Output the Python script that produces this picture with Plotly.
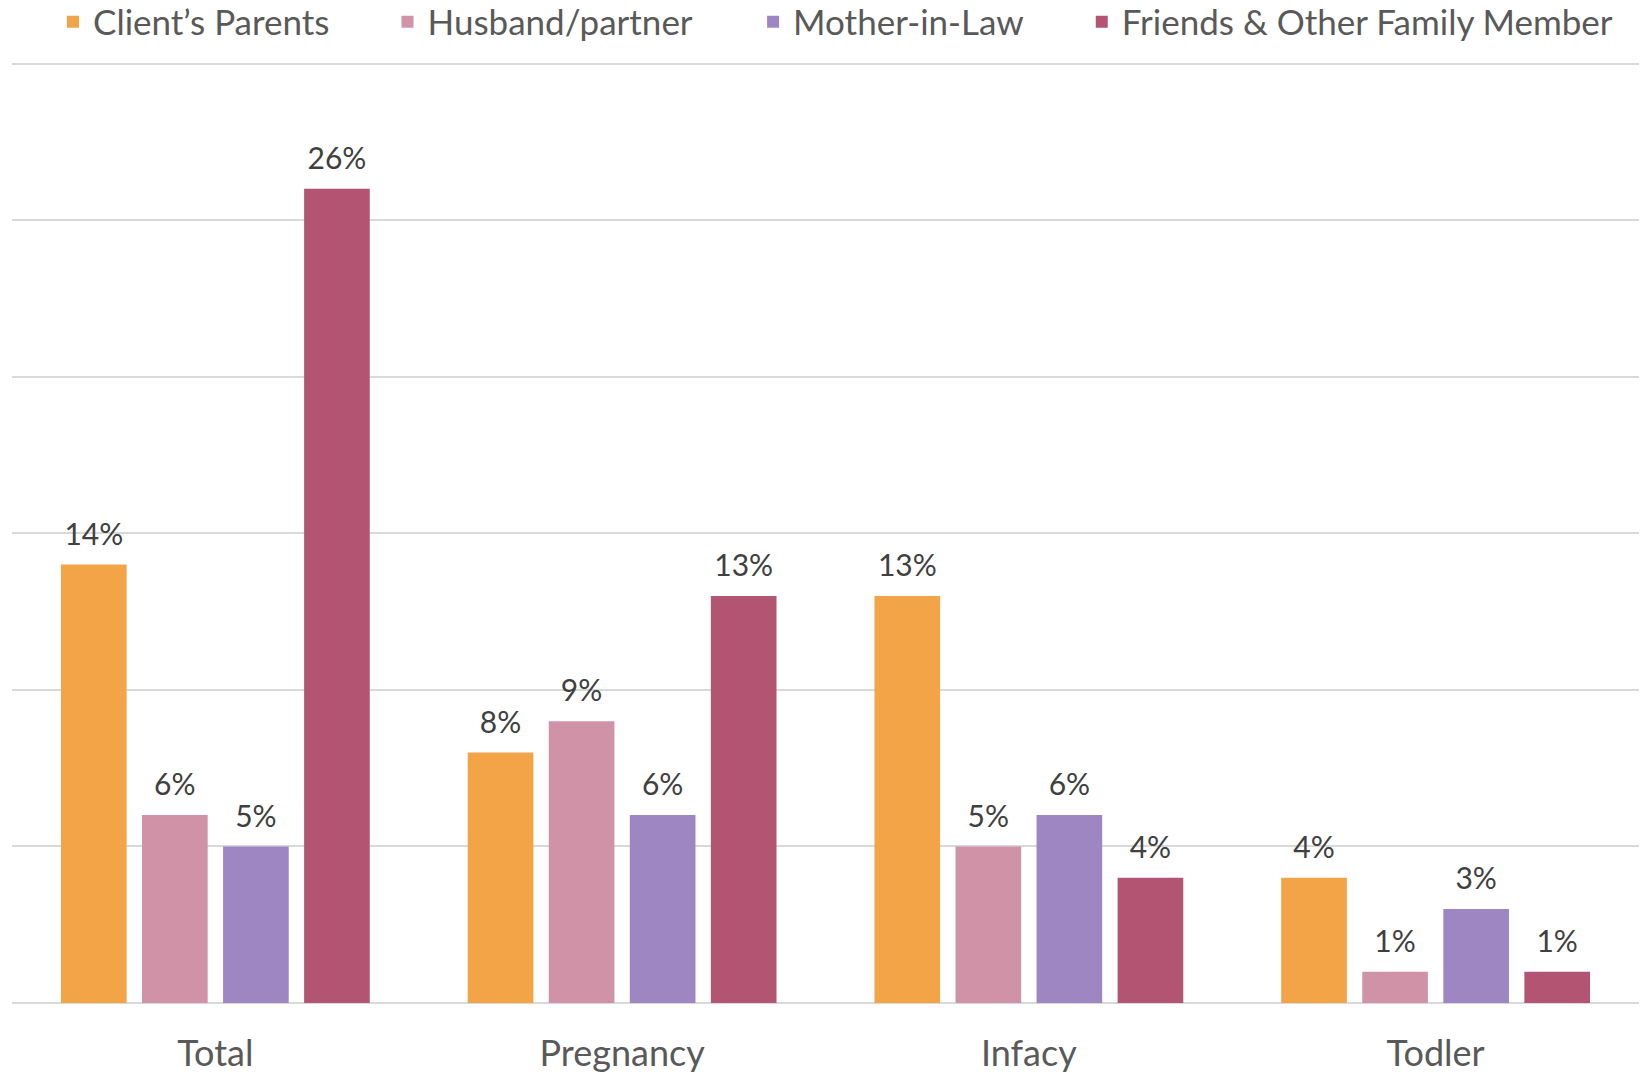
import plotly.graph_objects as go

categories = ["Total", "Pregnancy", "Infacy", "Todler"]
series_names = ["Client’s Parents", "Husband/partner", "Mother-in-Law", "Friends & Other Family Member"]
clients_parents = [14, 8, 13, 4]
husband_partner = [6, 9, 5, 1]
mother_in_law = [5, 6, 6, 3]
friends_family = [26, 13, 4, 1]
series_values = [clients_parents, husband_partner, mother_in_law, friends_family]
colors = ["#F2A447", "#D092A7", "#9E86C2", "#B45473"]

FONT = "Lato"
legend_ids = ["legend", "legend2", "legend3", "legend4"]
legend_x = [0.0252, 0.2308, 0.4555, 0.6575]

fig = go.Figure()
for name, vals, col, lg in zip(series_names, series_values, colors, legend_ids):
    fig.add_trace(go.Bar(
        x=categories, y=vals, name=name, marker=dict(color=col, line=dict(width=0)),
        hoverinfo="skip", legend=lg,
    ))
for name, vals, col in zip(series_names, series_values, colors):
    fig.add_trace(go.Scatter(
        x=categories, y=vals, mode="markers+text", text=[f"{v}%" for v in vals],
        marker=dict(size=18, opacity=0),
        textposition="top center", textfont=dict(family=FONT, size=30, color="#404040"),
        showlegend=False, cliponaxis=False, hoverinfo="skip",
    ))

legend_common = dict(orientation="h", xanchor="left", y=1.0426, yanchor="middle",
                     font=dict(family=FONT, size=35, color="#595959"), bgcolor="rgba(0,0,0,0)")
layout_legends = {lg: dict(x=lx, **legend_common) for lg, lx in zip(legend_ids, legend_x)}

fig.update_layout(
    width=1641, height=1074,
    margin=dict(l=12, r=2, t=62, b=71, autoexpand=False),
    paper_bgcolor="white", plot_bgcolor="white",
    barmode="group", bargap=0.203, bargroupgap=0.19,
    scattermode="group", scattergap=0.203,
    font=dict(family=FONT, color="#595959"),
    xaxis=dict(showgrid=False, showline=False, ticks="", tickfont=dict(family=FONT, size=36, color="#595959"),
               ticklabelstandoff=26, automargin=False),
    yaxis=dict(range=[0, 30.05], tickvals=[0, 5, 10, 15, 20, 25, 30], showticklabels=False, showgrid=True,
               gridcolor="#D9D9D9", gridwidth=1.5, zeroline=True, zerolinecolor="#D9D9D9",
               zerolinewidth=1.5, showline=False, automargin=False),
    **layout_legends,
)

fig.write_html("out.html", config={"displayModeBar": False},
               post_script="document.body.style.margin='0';document.body.style.overflow='hidden';")
